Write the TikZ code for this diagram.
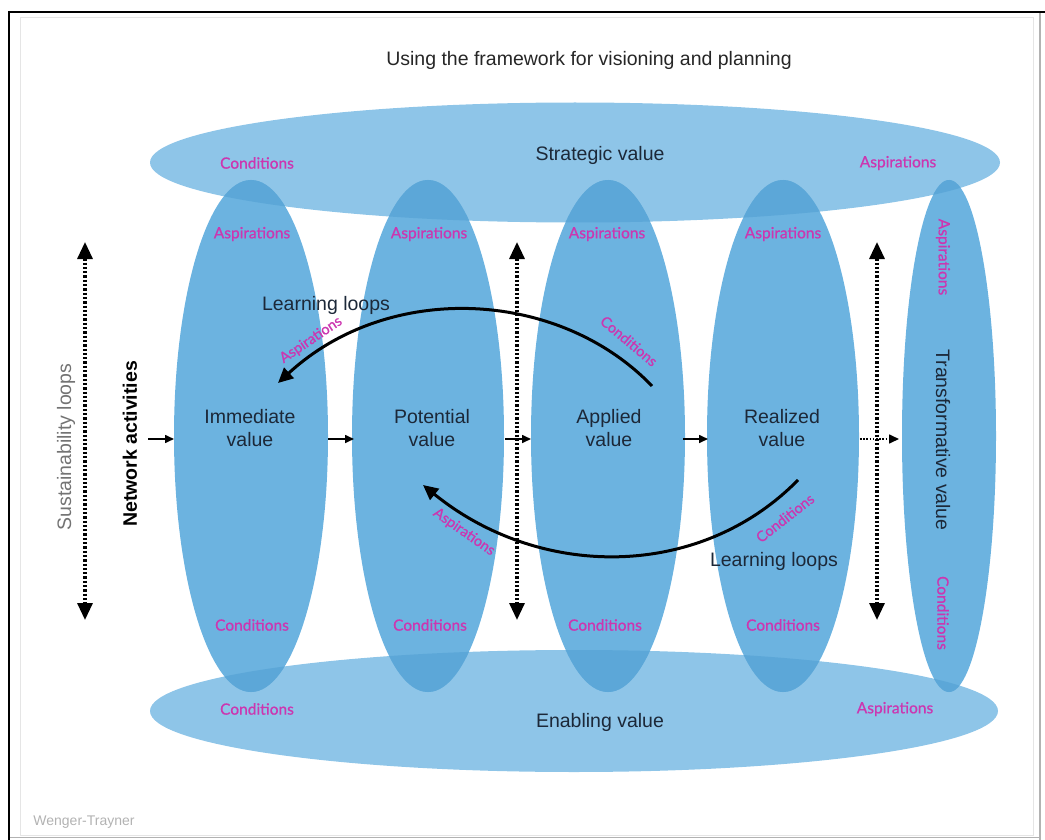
\documentclass[tikz,border=0pt]{standalone}
\usepackage{fontspec}
\setmainfont{Liberation Sans}
\newfontfamily\humfont[FakeBold=0.8]{Lato}
\usetikzlibrary{arrows.meta}
\definecolor{hblue}{RGB}{142,197,232}
\definecolor{vblue}{RGB}{108,179,224}
\definecolor{oblue}{RGB}{92,167,216}
\definecolor{mag}{RGB}{204,54,176}
\definecolor{navy}{RGB}{28,40,56}
\begin{document}
\begin{tikzpicture}[x=1pt,y=-1pt,
  lab/.style={font=\fontsize{19.5}{23.5}\selectfont, text=navy, align=center, inner sep=0pt},
  magl/.style={font=\humfont\fontsize{15.5}{18}\selectfont, text=mag, inner sep=0pt},
  smag/.style={font=\humfont\fontsize{14.5}{17}\selectfont, text=mag, inner sep=0pt},
  sarr/.style={line width=1.6pt, -{Triangle[width=8pt,length=9pt]}},
  dotarr/.style={line width=3.2pt, dash pattern=on 2.3pt off 2pt,
     {Triangle[width=15pt,length=17pt]}-{Triangle[width=15pt,length=17pt]}},
  thindot/.style={line width=1.6pt, dash pattern=on 1.6pt off 1.6pt, -{Triangle[width=9pt,length=10pt]}},
  lloop/.style={line width=3pt, -{Triangle[width=14pt,length=15pt]}}
]
\useasboundingbox (0,0) rectangle (1045,840);
% frame
\draw[black!10, line width=0.8pt] (20,17) rectangle (1033,835);
\draw[black!30, line width=1.2pt] (1040,12) -- (1040,840);
\draw[black!30, line width=1.2pt] (9,837.5) -- (1040,837.5);
\draw[black, line width=2.2pt] (8,12) -- (1045,12);
\draw[black, line width=2.2pt] (9,11) -- (9,840);

% horizontal ellipses
\fill[hblue] (575,162.5) ellipse [x radius=425, y radius=60];
\fill[hblue] (574,711) ellipse [x radius=424, y radius=61];
% vertical ellipses
\foreach \cx/\rx in {251/77, 428/76, 608/77, 783/76, 949/47}
  \fill[vblue] (\cx,436) ellipse [x radius=\rx, y radius=256];
% overlaps
\begin{scope}
  \clip (575,162.5) ellipse [x radius=425, y radius=60];
  \foreach \cx/\rx in {251/77, 428/76, 608/77, 783/76, 949/47}
    \fill[oblue] (\cx,436) ellipse [x radius=\rx, y radius=256];
\end{scope}
\begin{scope}
  \clip (574,711) ellipse [x radius=424, y radius=61];
  \foreach \cx/\rx in {251/77, 428/76, 608/77, 783/76, 949/47}
    \fill[oblue] (\cx,436) ellipse [x radius=\rx, y radius=256];
\end{scope}

% title
\node[font=\fontsize{19.5}{23.5}\selectfont, text=black!85, inner sep=0pt] (title) at (589,60) {Using the framework for visioning and planning};

% big labels
\node[lab] (strat) at (600,155) {Strategic value};
\node[lab] (enab) at (600,722) {Enabling value};
\node[lab] (imm) at (250,428) {Immediate\\value};
\node[lab] (pot) at (432,428) {Potential\\value};
\node[lab] (app) at (609,428) {Applied\\value};
\node[lab] (real) at (782,428) {Realized\\value};
\node[lab, rotate=-90] (trans) at (943,440) {Transformative value};
\node[font=\bfseries\fontsize{19.5}{23.5}\selectfont, text=black, rotate=90, inner sep=0pt] (net) at (130,444) {Network activities};
\node[font=\fontsize{19.5}{23.5}\selectfont, text=black!55, rotate=90, inner sep=0pt] (sust) at (66,447) {Sustainability loops};
\node[lab] (ll1) at (326,305) {Learning loops};
\node[lab] (ll2) at (774,561) {Learning loops};
\node[font=\fontsize{14}{16}\selectfont, text=black!30, inner sep=0pt] (wt) at (84,822) {Wenger-Trayner};

% magenta labels
\node[magl] (c0) at (257,163) {Conditions};
\node[magl] (a0) at (898,163) {Aspirations};
\node[magl] (a1) at (252,234) {Aspirations};
\node[magl] (a2) at (429,234) {Aspirations};
\node[magl] (a3) at (607,234) {Aspirations};
\node[magl] (a4) at (783,234) {Aspirations};
\node[magl, rotate=-90] (a5) at (943,257) {Aspirations};
\node[magl] (k1) at (252,625) {Conditions};
\node[magl] (k2) at (430,625) {Conditions};
\node[magl] (k3) at (605,625) {Conditions};
\node[magl] (k4) at (783,625) {Conditions};
\node[magl, rotate=-90] (k5) at (943,613) {Conditions};
\node[magl] (k6) at (257,709) {Conditions};
\node[magl] (a6) at (895,709) {Aspirations};
\node[smag, rotate=34] (ua) at (311,340) {Aspirations};
\node[smag, rotate=-40] (uc) at (629,341) {Conditions};
\node[smag, rotate=-35] (la) at (464,532) {Aspirations};
\node[smag, rotate=38] (lc) at (785,518) {Conditions};

% flow arrows
\coordinate (f0a) at (148,439); \coordinate (f0b) at (174,439);
\coordinate (f1a) at (328,439); \coordinate (f1b) at (354,439);
\coordinate (f2a) at (505,439); \coordinate (f2b) at (531,439);
\coordinate (f3a) at (683,439); \coordinate (f3b) at (708,439);
\coordinate (f4a) at (860,439); \coordinate (f4b) at (899,439);
\draw[sarr] (f0a) -- (f0b);
\draw[sarr] (f1a) -- (f1b);
\draw[sarr] (f2a) -- (f2b);
\draw[sarr] (f3a) -- (f3b);
\draw[thindot] (f4a) -- (f4b);

% dotted double arrows
\coordinate (d1t) at (85,242); \coordinate (d1b) at (85,620);
\coordinate (d2t) at (517,242); \coordinate (d2b) at (517,620);
\coordinate (d3t) at (877,242); \coordinate (d3b) at (877,620);
\draw[dotarr] (d1t) -- (d1b);
\draw[dotarr] (d2t) -- (d2b);
\draw[dotarr] (d3t) -- (d3b);

% learning loops
\coordinate (u1) at (652,386); \coordinate (u2) at (278,383);
\draw[lloop] (u1) .. controls (560,290) and (390,280) .. (u2);
\coordinate (l1) at (798,480); \coordinate (l2) at (423,485);
\draw[lloop] (l1) .. controls (700,580) and (540,580) .. (l2);
\end{tikzpicture}
\end{document}
